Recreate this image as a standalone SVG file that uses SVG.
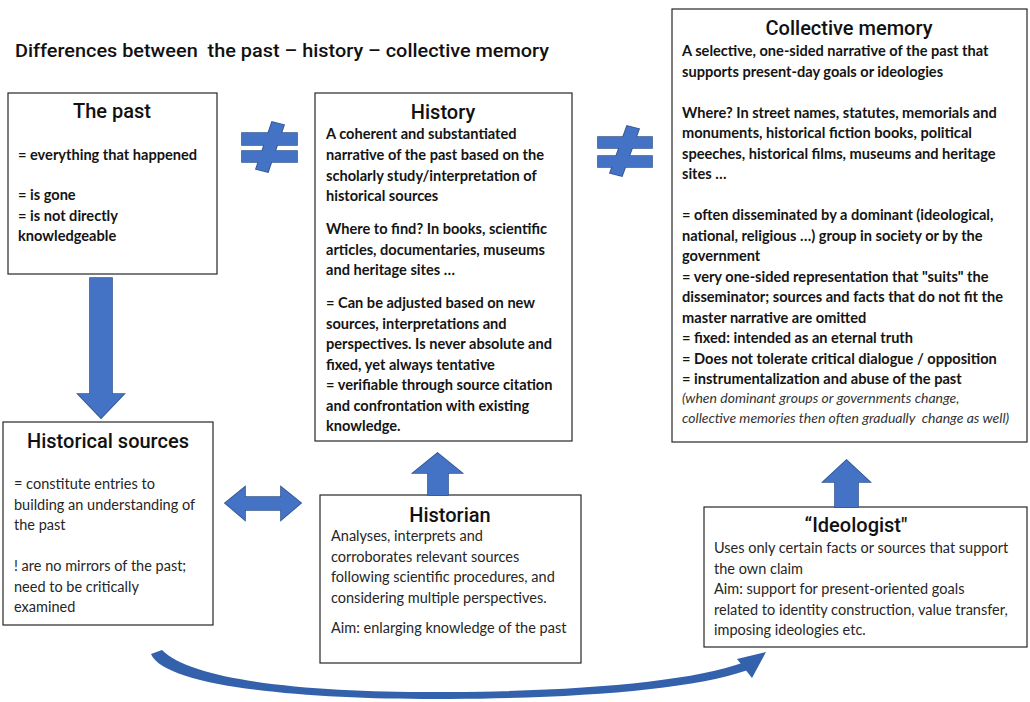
<svg xmlns="http://www.w3.org/2000/svg" width="1030" height="702" viewBox="0 0 1030 702">
  <style>
    .box { fill: #ffffff; stroke: #262626; stroke-width: 1.2; }
    .ttl { font-family: Roboto, "Liberation Sans", sans-serif; font-size: 19px; font-weight: 500; fill: #111; white-space: pre; }
    .hd { font-family: Roboto, "Liberation Sans", sans-serif; font-size: 20px; font-weight: 500; fill: #111; text-anchor: middle; }
    .b { font-family: Lato, "Liberation Sans", sans-serif; font-size: 14.6px; font-weight: 700; fill: #141414; }
    .r { font-family: Lato, "Liberation Sans", sans-serif; font-size: 14.5px; font-weight: 400; fill: #262626; }
    .i { font-family: Lato, "Liberation Sans", sans-serif; font-size: 14px; font-style: italic; fill: #333; white-space: pre; }
    .edge { fill: none; stroke: #2F528F; stroke-width: 1.6; stroke-linejoin: miter; }
    .fill { fill: #4472C4; }
    .curve { fill: #3461AC; }
  </style>

  <!-- page title -->
  <text class="ttl" x="15" y="57" textLength="534" lengthAdjust="spacingAndGlyphs">Differences between  the past – history – collective memory</text>

  <!-- The past -->
  <g id="past">
    <rect class="box" x="8" y="93" width="209" height="181"/>
    <text class="hd" x="112" y="118">The past</text>
    <text class="b" x="18" y="160">= everything that happened</text>
    <text class="b" x="18" y="200">= is gone</text>
    <text class="b" x="18" y="220.5">= is not directly</text>
    <text class="b" x="18" y="241">knowledgeable</text>
  </g>

  <!-- History -->
  <g id="history">
    <rect class="box" x="315" y="93" width="257" height="348"/>
    <text class="hd" x="443" y="119">History</text>
    <text class="b" x="326" y="139">A coherent and substantiated</text>
    <text class="b" x="326" y="160">narrative of the past based on the</text>
    <text class="b" x="326" y="180.5">scholarly study/interpretation of</text>
    <text class="b" x="326" y="201">historical sources</text>
    <text class="b" x="326" y="234">Where to find? In books, scientific</text>
    <text class="b" x="326" y="254.5">articles, documentaries, museums</text>
    <text class="b" x="326" y="275">and heritage sites …</text>
    <text class="b" x="326" y="308">= Can be adjusted based on new</text>
    <text class="b" x="326" y="328.5">sources, interpretations and</text>
    <text class="b" x="326" y="349">perspectives. Is never absolute and</text>
    <text class="b" x="326" y="369.5">fixed, yet always tentative</text>
    <text class="b" x="326" y="390">= verifiable through source citation</text>
    <text class="b" x="326" y="410.5">and confrontation with existing</text>
    <text class="b" x="326" y="431">knowledge.</text>
  </g>

  <!-- Collective memory -->
  <g id="collective-memory">
    <rect class="box" x="672" y="9" width="355" height="433"/>
    <text class="hd" x="849" y="35">Collective memory</text>
    <text class="b" x="682" y="56">A selective, one-sided narrative of the past that</text>
    <text class="b" x="682" y="76.5">supports present-day goals or ideologies</text>
    <text class="b" x="682" y="117.5">Where? In street names, statutes, memorials and</text>
    <text class="b" x="682" y="138">monuments, historical fiction books, political</text>
    <text class="b" x="682" y="158.5">speeches, historical films, museums and heritage</text>
    <text class="b" x="682" y="179">sites …</text>
    <text class="b" x="682" y="220">= often disseminated by a dominant (ideological,</text>
    <text class="b" x="682" y="240.5">national, religious …) group in society or by the</text>
    <text class="b" x="682" y="261">government</text>
    <text class="b" x="682" y="281.5">= very one-sided representation that "suits" the</text>
    <text class="b" x="682" y="302">disseminator; sources and facts that do not fit the</text>
    <text class="b" x="682" y="322.5">master narrative are omitted</text>
    <text class="b" x="682" y="343">= fixed: intended as an eternal truth</text>
    <text class="b" x="682" y="363.5">= Does not tolerate critical dialogue / opposition</text>
    <text class="b" x="682" y="384">= instrumentalization and abuse of the past</text>
    <text class="i" x="682" y="403">(when dominant groups or governments change,</text>
    <text class="i" x="682" y="423">collective memories then often gradually  change as well)</text>
  </g>

  <!-- Historical sources -->
  <g id="historical-sources">
    <rect class="box" x="3" y="422" width="210" height="203"/>
    <text class="hd" x="108" y="448">Historical sources</text>
    <text class="r" x="14" y="489">= constitute entries to</text>
    <text class="r" x="14" y="509.5">building an understanding of</text>
    <text class="r" x="14" y="530">the past</text>
    <text class="r" x="14" y="571">! are no mirrors of the past;</text>
    <text class="r" x="14" y="591.5">need to be critically</text>
    <text class="r" x="14" y="612">examined</text>
  </g>

  <!-- Historian -->
  <g id="historian">
    <rect class="box" x="320" y="495" width="261" height="168"/>
    <text class="hd" x="450" y="522">Historian</text>
    <text class="r" x="331" y="541">Analyses, interprets and</text>
    <text class="r" x="331" y="561.5">corroborates relevant sources</text>
    <text class="r" x="331" y="582">following scientific procedures, and</text>
    <text class="r" x="331" y="602.5">considering multiple perspectives.</text>
    <text class="r" x="331" y="633">Aim: enlarging knowledge of the past</text>
  </g>

  <!-- Ideologist -->
  <g id="ideologist">
    <rect class="box" x="704" y="507" width="323" height="140"/>
    <text class="hd" x="856" y="532">“Ideologist"</text>
    <text class="r" x="714" y="553">Uses only certain facts or sources that support</text>
    <text class="r" x="714" y="573.5">the own claim</text>
    <text class="r" x="714" y="594">Aim: support for present-oriented goals</text>
    <text class="r" x="714" y="614.5">related to identity construction, value transfer,</text>
    <text class="r" x="714" y="635">imposing ideologies etc.</text>
  </g>

  <defs>
    <!-- block arrows and "not equal" signs, reused for outline + fill passes -->
    <path id="shape-down" d="M90,278 H112 V394 H124 L101,418 L78,394 H90 Z"/>
    <path id="shape-both" d="M225,503 L245,487 V497 H281 V487 L301,503 L281,520 V510 H245 V520 Z"/>
    <path id="shape-up1" d="M428,495 V473 H413 L437.5,453 L462,473 H448 V495 Z"/>
    <path id="shape-up2" d="M835,507 V482 H823 L846.5,460 L870,482 H858 V507 Z"/>
    <path id="shape-ne1" d="M242,133 H297 V145 H242 Z M242,151 H297 V162 H242 Z M272,122 L284,125 L268,172 L256,169 Z"/>
    <path id="shape-ne2" d="M598,137 H652 V148 H598 Z M598,156 H652 V167 H598 Z M627,126 L639,129 L622,176 L610,173 Z"/>
  </defs>

  <!-- connectors -->
  <g id="connectors">
    <g class="edge">
      <use href="#shape-down"/>
      <use href="#shape-both"/>
      <use href="#shape-up1"/>
      <use href="#shape-up2"/>
      <use href="#shape-ne1"/>
      <use href="#shape-ne2"/>
    </g>
    <g class="fill">
      <use href="#shape-down"/>
      <use href="#shape-both"/>
      <use href="#shape-up1"/>
      <use href="#shape-up2"/>
      <use href="#shape-ne1"/>
      <use href="#shape-ne2"/>
    </g>
    <!-- tapered sweep from the sources to the ideologist -->
    <path class="curve" d="M151,654 C166,689 320,700 450,699 C580,698 690,690 748,670 L745,662 C690,682 580,691 450,692 C330,693 196,684 162,650 Z"/>
    <path class="curve" d="M737,659 L766,652 L752,678 Z"/>
  </g>
</svg>
